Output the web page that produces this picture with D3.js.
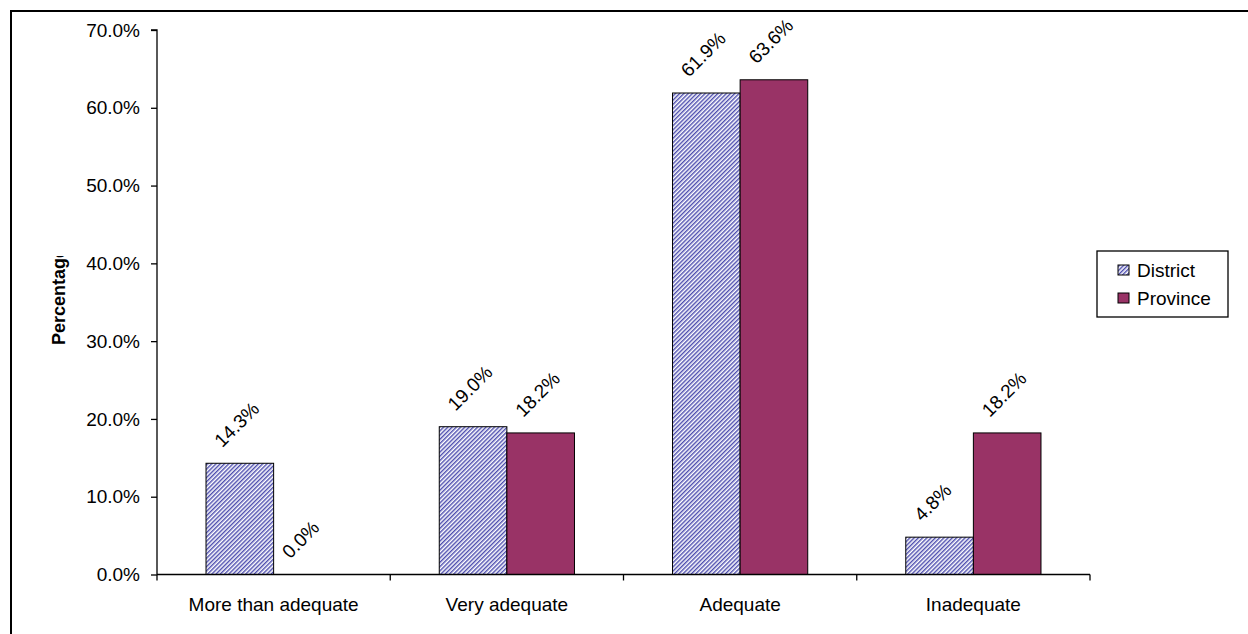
<!DOCTYPE html>
<html>
<head>
<meta charset="utf-8">
<script src="https://cdn.jsdelivr.net/npm/d3@7"></script>
<style>
  html, body { margin: 0; padding: 0; background: #fff; }
  svg { display: block; }
  text { font-family: "Liberation Sans", Arial, sans-serif; fill: #000; }
</style>
</head>
<body>
<svg id="chart" width="1248" height="634"></svg>
<script>
const categories = ["More than adequate", "Very adequate", "Adequate", "Inadequate"];
const seriesNames = ["District", "Province"];
const districtValues = [14.3, 19.0, 61.9, 4.8];
const provinceValues = [0.0, 18.2, 63.6, 18.2];
const yTickValues = [0, 10, 20, 30, 40, 50, 60, 70];
const yAxisTitle = "Percentage";

const svg = d3.select("#chart");
const W = 1248, H = 634;
const plot = { left: 157, right: 1090, top: 30, bottom: 574.5 };
const fontSize = 19;

// outer frame (right/bottom edges fall outside the picture)
svg.append("rect")
  .attr("x", 11).attr("y", 11).attr("width", 1400).attr("height", 1000)
  .attr("fill", "none").attr("stroke", "#000").attr("stroke-width", 2);

// hatch pattern
const defs = svg.append("defs");
const pat = defs.append("pattern")
  .attr("id", "hatch").attr("patternUnits", "userSpaceOnUse")
  .attr("width", 3).attr("height", 3)
  .attr("patternTransform", "rotate(45)");
pat.append("rect").attr("width", 3).attr("height", 3).attr("fill", "#fff");
pat.append("line").attr("x1", 0.75).attr("y1", 0).attr("x2", 0.75).attr("y2", 3)
  .attr("stroke", "#3a3aa6").attr("stroke-width", 1.3);

const fills = { District: "url(#hatch)", Province: "#993366" };

const x = d3.scaleBand().domain(categories).range([plot.left, plot.right]).padding(0);
const xs = d3.scaleBand().domain(seriesNames).range([0, x.bandwidth()])
  .paddingInner(0).paddingOuter(0.725);
const y = d3.scaleLinear().domain([0, 70]).range([plot.bottom, plot.top]);

const data = [];
categories.forEach((c, i) => {
  data.push({ cat: c, series: "District", value: districtValues[i] });
  data.push({ cat: c, series: "Province", value: provinceValues[i] });
});

// bars
svg.append("g").selectAll("rect").data(data).join("rect")
  .attr("x", d => x(d.cat) + xs(d.series))
  .attr("y", d => y(d.value))
  .attr("width", xs.bandwidth())
  .attr("height", d => y(0) - y(d.value))
  .attr("fill", d => fills[d.series])
  .attr("stroke", "#000").attr("stroke-width", 1)
  .attr("display", d => d.value === 0 ? "none" : null);

// data labels
svg.append("g").selectAll("text").data(data).join("text")
  .attr("transform", d => {
    const cx = x(d.cat) + xs(d.series) + xs.bandwidth() / 2 - 17.5;
    const cy = y(d.value) - 15;
    return `translate(${cx},${cy}) rotate(-45)`;
  })
  .attr("text-anchor", "start")
  .attr("font-size", fontSize)
  .text(d => d.value.toFixed(1) + "%");

// y axis
const yAxis = d3.axisLeft(y).tickValues(yTickValues)
  .tickFormat(d => d.toFixed(1) + "%").tickSize(6).tickPadding(11);
const gy = svg.append("g").attr("transform", `translate(${plot.left},0)`).call(yAxis);
gy.select(".domain").attr("stroke", "#000").attr("stroke-width", 1.3).attr("d", `M-6,${plot.top}H0V${plot.bottom}`);
gy.selectAll(".tick line").attr("stroke", "#000").attr("stroke-width", 1.3);
gy.selectAll(".tick text").attr("font-size", fontSize)
  .attr("font-family", '"Liberation Sans", Arial, sans-serif').attr("fill", "#000");

// x axis
const xAxis = d3.axisBottom(x).tickSize(0).tickPadding(0);
const gx = svg.append("g").attr("transform", `translate(0,${plot.bottom})`).call(xAxis);
gx.select(".domain").attr("stroke", "#000").attr("stroke-width", 1.3)
  .attr("d", `M${plot.left},0H${plot.right}`);
gx.selectAll(".tick text").attr("font-size", fontSize)
  .attr("font-family", '"Liberation Sans", Arial, sans-serif').attr("fill", "#000")
  .attr("dy", null).attr("y", 36.5);
// category boundary ticks
const bounds = categories.map(c => x(c)).concat([plot.right]);
gx.append("g").selectAll("line").data(bounds).join("line")
  .attr("x1", d => d).attr("x2", d => d).attr("y1", 0).attr("y2", 6)
  .attr("stroke", "#000").attr("stroke-width", 1.3);

// y axis title (clipped at the top like the original)
defs.append("clipPath").attr("id", "titleClip")
  .append("rect").attr("x", 0).attr("y", 256).attr("width", 150).attr("height", 300);
svg.append("g").attr("clip-path", "url(#titleClip)")
  .append("text")
  .attr("transform", "translate(65,345) rotate(-90)")
  .attr("text-anchor", "start")
  .attr("font-size", 18)
  .attr("font-weight", "bold")
  .text(yAxisTitle);

// legend
const lg = svg.append("g");
lg.append("rect").attr("x", 1097).attr("y", 251).attr("width", 131).attr("height", 66)
  .attr("fill", "#fff").attr("stroke", "#000").attr("stroke-width", 1.3);
const items = lg.selectAll("g.item").data(seriesNames).join("g")
  .attr("class", "item")
  .attr("transform", (d, i) => `translate(1118,${270 + i * 28})`);
items.append("rect").attr("x", 0).attr("y", -5).attr("width", 11).attr("height", 10)
  .attr("fill", d => fills[d]).attr("stroke", "#000").attr("stroke-width", 1);
items.append("text").attr("x", 19).attr("y", 0).attr("dy", "0.35em")
  .attr("font-size", fontSize).text(d => d);
</script>
</body>
</html>
